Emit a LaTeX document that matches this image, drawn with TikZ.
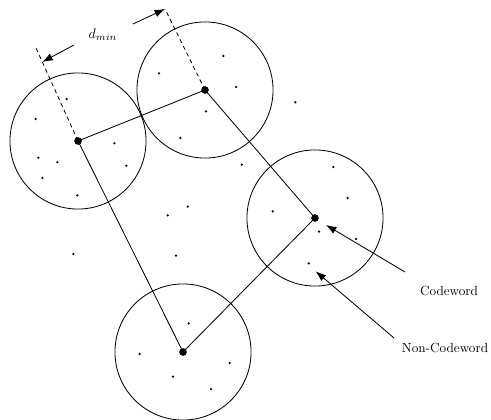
\documentclass[tikz,border=0pt]{standalone}
\usetikzlibrary{arrows.meta, positioning, calc}
\tikzset{
	codeword/.style={circle, fill=black, inner sep=0pt, minimum size=5.5pt},
	noncode/.style={circle, fill=black, inner sep=0pt, minimum size=1.8pt},
	sphere/.style={draw=black, line width=0.6pt},
	link/.style={draw=black, line width=0.6pt},
	guide/.style={draw=black, dash pattern=on 3pt off 2.4pt, line width=0.6pt},
	pointer/.style={-{Latex[length=7.5pt, width=5.5pt]}, line width=0.6pt},
	tag/.style={font=\fontsize{9.5}{11}\selectfont, inner sep=0pt},
}

\begin{document}
\begin{tikzpicture}[x=0.72pt, y=-0.72pt]
	\useasboundingbox (0,0) rectangle (491,420);
	\node[codeword] (cwA) at (78,141) {};
	\node[codeword] (cwB) at (205,90) {};
	\node[codeword] (cwC) at (315,218) {};
	\node[codeword] (cwD) at (183,352) {};
	\foreach \c in {cwA, cwB, cwC, cwD}
		\draw[sphere] (\c.center) circle[radius=49pt];
	\draw[link] (cwA.center) -- (cwB.center) -- (cwC.center) -- (cwD.center) -- cycle;
	\foreach \p [count=\i] in {(66.7,99), (35.7,119), (114.3,143.3), (38.3,157.7), (57.3,162.3), (126.3,165.7), (42.3,178), (77.3,195.3),
		(223.3,56), (159,73.3), (236,87), (206,111.3), (180.3,138), (241.7,164.7), (187.7,206.7), (295.3,102.3), (333.3,167), (347.7,198),
		(167.7,215.3), (73.3,254), (176,255.7), (188.7,323.3), (139.7,354), (229.7,363), (173,376.7), (211,389),
		(272.7,211.3), (319,231.7), (356,239), (308.7,263.3)}
		\node[noncode] (nc\i) at \p {};
	\coordinate (endA) at (36,48);
	\coordinate (endB) at (165,9);
	\draw[guide] (cwA.center) -- (endA);
	\draw[guide] (cwB.center) -- (endB);
	\coordinate (tailA) at (74,45);
	\coordinate (tailB) at (133,24);
	\draw[pointer] (tailA) -- ($(cwA.center)!0.85!(endA)$);
	\draw[pointer] (tailB) -- (endB);
	\node (dmin) at (103,35) {$d_{min}$};
	\node[tag] (lblcode) at (449,291) {Codeword};
	\node[tag] (lblnon) at (445,348) {Non-Codeword};
	\coordinate (tailcode) at (405,272);
	\coordinate (tailnon) at (394,338);
	\draw[pointer] (tailcode) -- ($(cwC.center)+(11,7)$);
	\draw[pointer] (tailnon) -- ($(nc30)+(7,8)$);
\end{tikzpicture}
\end{document}
